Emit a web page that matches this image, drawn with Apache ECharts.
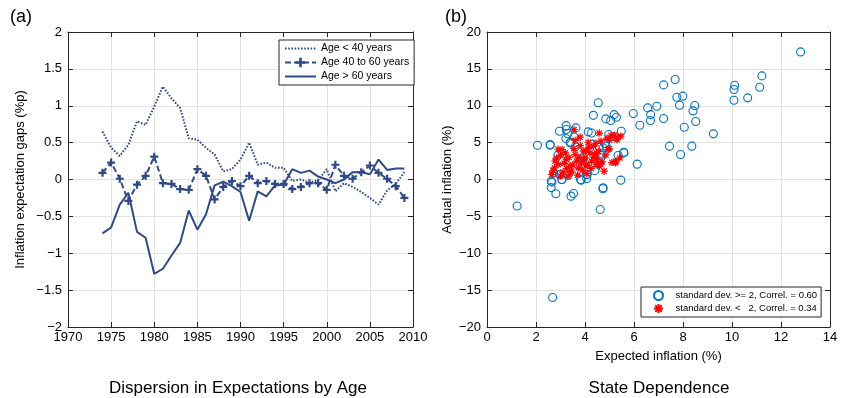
<!DOCTYPE html>
<html>
<head>
<meta charset="utf-8">
<script src="https://cdn.jsdelivr.net/npm/echarts@6/dist/echarts.min.js"></script>
<style>
  html, body { margin: 0; padding: 0; background: #fff; }
  #chart { width: 841px; height: 398px; }
</style>
</head>
<body>
<div id="chart"></div>
<script>
// Panel (a): inflation expectation gaps by age group, 1974-2009
const years = [1974, 1975, 1976, 1977, 1978, 1979, 1980, 1981, 1982, 1983, 1984, 1985,
  1986, 1987, 1988, 1989, 1990, 1991, 1992, 1993, 1994, 1995, 1996, 1997,
  1998, 1999, 2000, 2001, 2002, 2003, 2004, 2005, 2006, 2007, 2008, 2009];

const ageUnder40 = [0.65, 0.43, 0.32, 0.47, 0.79, 0.74, 0.99, 1.26, 1.10, 0.97, 0.56, 0.54,
  0.43, 0.34, 0.11, 0.14, 0.27, 0.50, 0.20, 0.23, 0.16, 0.16, -0.02, 0.00,
  -0.04, -0.01, 0.14, -0.16, -0.05, -0.10, -0.17, -0.25, -0.34, -0.15, -0.06, 0.10];

const age40to60 = [0.09, 0.23, 0.01, -0.29, -0.07, 0.05, 0.31, -0.05, -0.06, -0.13, -0.14, 0.14,
  0.05, -0.27, -0.10, -0.02, -0.09, 0.05, -0.05, -0.02, -0.06, -0.06, -0.13, -0.10,
  -0.05, -0.05, -0.14, 0.20, 0.05, 0.01, 0.10, 0.19, 0.09, 0.01, -0.09, -0.25];

const ageOver60 = [-0.73, -0.65, -0.34, -0.18, -0.71, -0.79, -1.28, -1.21, -1.03, -0.86, -0.42, -0.68,
  -0.47, -0.08, -0.03, -0.09, -0.17, -0.56, -0.16, -0.23, -0.08, -0.07, 0.14, 0.09,
  0.12, 0.04, 0.00, -0.05, 0.00, 0.10, 0.10, 0.07, 0.27, 0.13, 0.15, 0.15];

const seriesNamesA = ['Age < 40 years', 'Age 40 to 60 years', 'Age > 60 years'];
const yearTicks = { min: 1970, max: 2010, step: 5 };
const gapTicks = { min: -2, max: 2, step: 0.5 };

// Panel (b): expected vs actual inflation, [expected, actual]
const highDispersion = [
  [1.23, -3.6], [2.68, -16.0], [2.06, 4.65], [2.58, 4.65], [2.96, 6.55], [3.23, 7.3],
  [3.24, 6.77], [3.63, 7.0], [3.22, 5.55], [3.42, 5.05], [3.55, 5.78], [4.34, 8.7],
  [4.54, 10.4], [4.13, 6.46], [4.27, 6.3], [2.89, 3.25], [2.96, 0.68], [2.62, -0.23],
  [3.06, 0.0], [2.62, -1.1], [2.81, -1.94], [3.43, -2.26], [3.53, -1.9], [3.82, 0.0],
  [4.07, 0.13], [4.07, 0.68], [4.73, -1.26], [4.62, -4.06], [5.46, -0.09], [6.13, 2.08],
  [5.58, 3.7], [5.35, 3.25], [4.87, 4.52], [4.74, 4.29], [4.64, 2.94], [4.6, 2.26],
  [4.97, 6.1], [5.48, 6.55], [4.85, 8.22], [5.05, 8.0], [5.19, 8.8], [5.28, 8.44],
  [5.97, 8.94], [6.24, 7.36], [6.56, 9.71], [6.68, 8.8], [6.67, 8.0], [6.93, 9.94],
  [7.21, 8.27], [7.45, 4.52], [12.8, 17.3], [11.22, 14.05], [11.13, 12.5], [10.64, 11.07],
  [10.11, 12.78], [10.08, 12.2], [10.08, 10.75], [7.68, 13.55], [7.21, 12.83], [7.75, 11.15],
  [7.99, 11.3], [7.86, 10.07], [8.48, 10.03], [8.41, 9.3], [8.52, 7.86], [8.05, 7.09],
  [9.24, 6.19], [8.36, 4.52], [7.9, 3.39], [3.3, 0.54], [4.81, 4.88], [4.58, 4.43],
  [4.63, 3.52], [5.59, 3.61], [4.74, -1.13], [2.58, 4.74], [3.39, 4.97], [2.99, 2.71],
  [2.72, 0.9], [2.65, -0.36], [2.99, 0.68], [3.05, 0.0], [3.84, -0.1], [4.09, 0.68],
  [3.7, 2.03], [3.93, 2.94], [4.3, 4.8], [3.3, 6.2], [3.6, 4.4], [4.4, 1.2], [5.2, 5.8]
];

const lowDispersion = [
  [3.55, 6.77], [3.8, 5.74], [4.58, 6.3], [5.0, 5.33], [5.46, 5.87], [5.26, 5.6],
  [5.06, 6.0], [4.99, 4.16], [5.26, 2.48], [5.42, 2.94], [4.78, 1.13], [4.07, 0.81],
  [3.06, 4.07], [2.78, 2.48], [2.65, 0.68], [2.75, 1.58], [2.9, 2.03], [3.24, 2.71],
  [3.38, 1.8], [3.45, 1.13], [3.3, 0.45], [3.6, 3.39], [3.66, 2.48], [3.73, 1.58],
  [3.86, 2.26], [3.93, 3.84], [4.0, 2.94], [4.13, 5.05], [4.2, 3.61], [4.27, 2.48],
  [4.34, 4.52], [4.4, 3.39], [4.47, 2.03], [4.54, 2.26], [5.31, 5.4], [5.25, 2.26],
  [4.47, 3.6], [4.47, 2.9], [4.94, 4.07], [2.7, 1.2], [2.85, 2.9], [3.0, 3.3],
  [3.1, 1.0], [3.15, 2.2], [3.2, 3.6], [3.35, 3.0], [3.4, 0.9], [3.5, 2.0],
  [3.55, 4.2], [3.7, 0.6], [3.75, 3.0], [3.8, 4.6], [3.9, 1.3], [3.95, 2.8],
  [4.05, 3.9], [4.1, 1.9], [4.15, 4.4], [4.25, 1.5], [4.35, 3.0], [4.45, 4.9],
  [4.55, 3.8], [4.6, 1.8], [4.65, 5.2], [4.7, 2.4], [4.85, 3.3], [4.9, 5.6],
  [5.1, 2.3], [5.2, 6.0], [3.0, 0.5], [2.9, 4.1], [3.6, 5.3], [4.05, 2.0], [3.25, 1.5]
];

const seriesNamesB = ['standard dev. >= 2, Correl. = 0.60', 'standard dev. <   2, Correl. = 0.34'];
const expectedTicks = { min: 0, max: 14, step: 2 };
const actualTicks = { min: -20, max: 20, step: 5 };

const FONT = 'Liberation Sans, Arial, Helvetica, sans-serif';
const AXIS_COLOR = '#262626';
const GRID_COLOR = '#e3e3e3';
const LINE_BLUE = '#2f4a85';
const MINUS = v => String(v).replace('-', '\u2212');

const PLUS_SYMBOL = 'path://M-1.1,-4L1.1,-4L1.1,-1.1L4,-1.1L4,1.1L1.1,1.1L1.1,4L-1.1,4L-1.1,1.1L-4,1.1L-4,-1.1L-1.1,-1.1Z';
const STAR_SYMBOL = 'path://M0,-5L0,5M-5,0L5,0M-3.6,-3.6L3.6,3.6M-3.6,3.6L3.6,-3.6';
const NO_MARKER = { color: 'rgba(0,0,0,0)', borderWidth: 0, opacity: 0 };

// One visible labelled axis plus a mirrored unlabelled one closes the box
function axisPair(dim, gridIndex, ticks, name, nameGap) {
  const posMain = dim === 'x' ? 'bottom' : 'left';
  const posMirror = dim === 'x' ? 'top' : 'right';
  const common = {
    gridIndex, type: 'value', min: ticks.min, max: ticks.max, interval: ticks.step,
    axisLine: { show: true, onZero: false, lineStyle: { color: AXIS_COLOR, width: 1 } },
    axisTick: { show: true, inside: true, length: 5, lineStyle: { color: AXIS_COLOR } }
  };
  return [
    Object.assign({}, common, {
      position: posMain,
      name, nameLocation: 'middle', nameGap,
      nameTextStyle: { color: '#000', fontSize: 13, fontFamily: FONT },
      axisLabel: { color: '#000', fontSize: 13, fontFamily: FONT, margin: dim === 'x' ? 4 : 6, formatter: MINUS },
      splitLine: { show: true, lineStyle: { color: GRID_COLOR, width: 1 } }
    }),
    Object.assign({}, common, {
      position: posMirror,
      axisLabel: { show: false },
      splitLine: { show: false }
    })
  ];
}

const xAxes = [].concat(
  axisPair('x', 0, yearTicks, '', 0),
  axisPair('x', 1, expectedTicks, 'Expected inflation (%)', 23)
);
const yAxes = [].concat(
  axisPair('y', 0, gapTicks, 'Inflation expectation gaps (%p)', 41),
  axisPair('y', 1, actualTicks, 'Actual inflation (%)', 33)
);

const chart = echarts.init(document.getElementById('chart'), null, { renderer: 'canvas' });

chart.setOption({
  animation: false,
  backgroundColor: '#fff',
  textStyle: { fontFamily: FONT },
  grid: [
    { left: 68, right: 428, top: 32, bottom: 71, outerBoundsMode: 'none' },
    { left: 487, right: 11, top: 32, bottom: 71, outerBoundsMode: 'none' }
  ],
  xAxis: xAxes,
  yAxis: yAxes,
  legend: [
    {
      data: [
        { name: seriesNamesA[0], itemStyle: NO_MARKER },
        { name: seriesNamesA[1] },
        { name: seriesNamesA[2], itemStyle: NO_MARKER }
      ],
      orient: 'vertical', left: 279, top: 40,
      backgroundColor: '#fff', borderColor: AXIS_COLOR, borderWidth: 1,
      padding: [3, 5, 3, 5], itemGap: 3, itemWidth: 31, itemHeight: 12,
      textStyle: { fontSize: 10.5, color: '#000', fontFamily: FONT }
    },
    {
      data: seriesNamesB, orient: 'vertical', left: 641, top: 287,
      backgroundColor: '#fff', borderColor: AXIS_COLOR, borderWidth: 1,
      padding: [3, 4, 3, 12], itemGap: 2, itemWidth: 24, itemHeight: 9,
      textStyle: { fontSize: 9.5, color: '#000', fontFamily: FONT }
    }
  ],
  graphic: [
    { type: 'text', x: 10, y: 8, style: { text: '(a)', fontSize: 18, fontFamily: FONT, fill: '#000' } },
    { type: 'text', x: 445, y: 8, style: { text: '(b)', fontSize: 18, fontFamily: FONT, fill: '#000' } },
    { type: 'text', x: 238, y: 388, style: { text: 'Dispersion in Expectations by Age', fontSize: 17, fontFamily: FONT, fill: '#000', align: 'center', verticalAlign: 'middle' } },
    { type: 'text', x: 659, y: 388, style: { text: 'State Dependence', fontSize: 17, fontFamily: FONT, fill: '#000', align: 'center', verticalAlign: 'middle' } }
  ],
  series: [
    {
      name: seriesNamesA[0], type: 'line', xAxisIndex: 0, yAxisIndex: 0,
      data: years.map((yr, i) => [yr, ageUnder40[i]]),
      symbol: 'none', itemStyle: { color: LINE_BLUE },
      lineStyle: { color: LINE_BLUE, width: 2, type: [1.6, 1.6] }
    },
    {
      name: seriesNamesA[1], type: 'line', xAxisIndex: 0, yAxisIndex: 0,
      data: years.map((yr, i) => [yr, age40to60[i]]),
      symbol: PLUS_SYMBOL, symbolSize: 8, itemStyle: { color: LINE_BLUE },
      lineStyle: { color: LINE_BLUE, width: 2, type: [6, 3] }
    },
    {
      name: seriesNamesA[2], type: 'line', xAxisIndex: 0, yAxisIndex: 0,
      data: years.map((yr, i) => [yr, ageOver60[i]]),
      symbol: 'none', itemStyle: { color: LINE_BLUE },
      lineStyle: { color: LINE_BLUE, width: 2 }
    },
    {
      name: seriesNamesB[0], type: 'scatter', xAxisIndex: 2, yAxisIndex: 2,
      data: highDispersion, symbol: 'circle', symbolSize: 8,
      itemStyle: { color: 'rgba(0,0,0,0)', borderColor: '#0072BD', borderWidth: 1.1, opacity: 1 }
    },
    {
      name: seriesNamesB[1], type: 'scatter', xAxisIndex: 2, yAxisIndex: 2,
      data: lowDispersion, symbol: STAR_SYMBOL, symbolSize: 7.5,
      itemStyle: { color: '#ff0000', borderColor: '#ff0000', borderWidth: 1.2, opacity: 1 }
    }
  ]
});
</script>
</body>
</html>
